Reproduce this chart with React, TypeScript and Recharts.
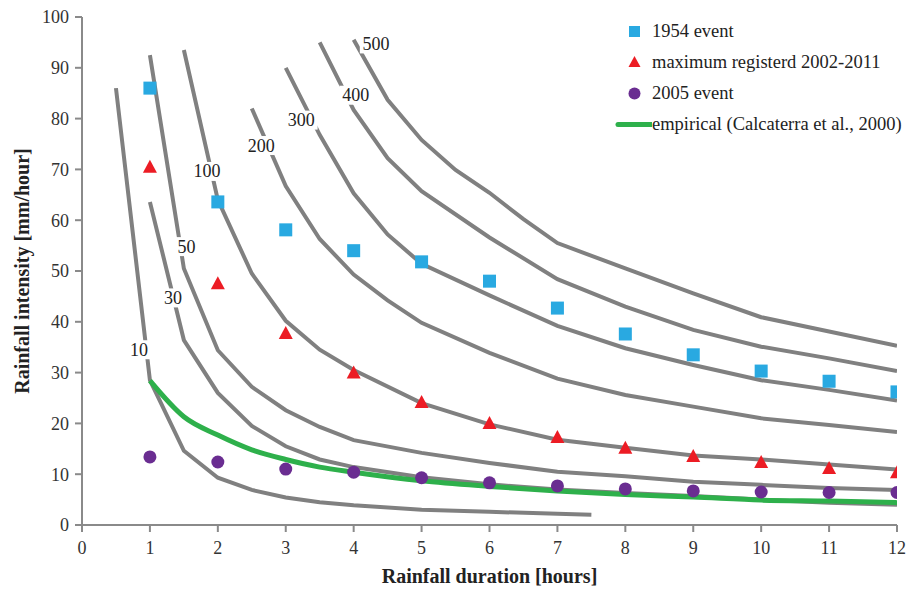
import React from 'react';
import { ComposedChart, Line, Scatter, XAxis, YAxis, Legend } from 'recharts';

// observed points, one per hour
const durations = [1, 2, 3, 4, 5, 6, 7, 8, 9, 10, 11, 12];
const event1954 = [86.0, 63.6, 58.1, 54.0, 51.8, 48.0, 42.7, 37.6, 33.5, 30.3, 28.3, 26.2];
const max2002to2011 = [70.5, 47.6, 37.8, 30.0, 24.2, 20.1, 17.3, 15.2, 13.6, 12.4, 11.2, 10.4];
const event2005 = [13.4, 12.4, 11.0, 10.4, 9.3, 8.3, 7.7, 7.1, 6.7, 6.5, 6.4, 6.4];

// empirical threshold (Calcaterra et al., 2000)
const empirical = [
  [1, 28.4], [1.5, 21.3], [2, 17.7], [2.5, 14.8], [3, 12.9], [3.5, 11.4], [4, 10.4],
  [5, 8.7], [6, 7.6], [7, 6.7], [8, 6.0], [9, 5.5], [10, 4.9], [11, 4.7], [12, 4.4],
];

// grey curves
const curve10 = [[0.5, 86], [1, 28.5], [1.5, 14.6], [2, 9.3], [2.5, 6.9], [3, 5.4], [3.5, 4.5], [4, 3.9], [5, 3.0], [6, 2.6], [7, 2.2], [7.5, 2.0]];
const curve30 = [[1, 63.6], [1.5, 36.4], [2, 26], [2.5, 19.5], [3, 15.5], [3.5, 12.9], [4, 11.4], [5, 9.4], [6, 8.0], [7, 7.0], [8, 6.3], [9, 5.7], [10, 5.0], [11, 4.4], [12, 4.0]];
const curve50 = [[1, 92.5], [1.5, 50.5], [2, 34.4], [2.5, 27.2], [3, 22.6], [3.5, 19.3], [4, 16.7], [5, 14.2], [6, 12.2], [7, 10.5], [8, 9.6], [9, 8.5], [10, 7.9], [11, 7.3], [12, 6.9]];
const curve100 = [[1.5, 93.5], [2, 64], [2.5, 49.5], [3, 40.2], [3.5, 34.5], [4, 30.5], [5, 24.0], [6, 19.8], [7, 16.8], [8, 15.2], [9, 13.7], [10, 12.9], [11, 11.9], [12, 10.9]];
const curve200 = [[2.5, 82], [3, 66.7], [3.5, 56.3], [4, 49.3], [4.5, 44.2], [5, 39.8], [6, 33.9], [7, 28.8], [8, 25.6], [9, 23.3], [10, 21.0], [11, 19.7], [12, 18.3]];
const curve300 = [[3, 90], [3.5, 76.8], [4, 65.3], [4.5, 57.2], [5, 51.4], [6, 45.2], [7, 39.2], [8, 34.8], [9, 31.5], [10, 28.5], [11, 26.6], [12, 24.5]];
const curve400 = [[3.5, 95], [4, 81.7], [4.5, 72.2], [5, 65.7], [6, 56.6], [7, 48.4], [8, 43.0], [9, 38.4], [10, 35.1], [11, 32.8], [12, 30.3]];
const curve500 = [[4, 95.5], [4.5, 83.7], [5, 75.8], [5.5, 69.9], [6, 65.4], [6.5, 60.2], [7, 55.5], [8, 50.5], [9, 45.6], [10, 40.9], [11, 38.1], [12, 35.3]];

const curves = [curve10, curve30, curve50, curve100, curve200, curve300, curve400, curve500];
const curveNames = ['10', '30', '50', '100', '200', '300', '400', '500'];
// where each curve's number sits (data units)
const labelX = [0.84, 1.34, 1.54, 1.84, 2.64, 3.23, 4.03, 4.33];
const labelY = [34.5, 44.7, 54.8, 69.6, 74.7, 79.7, 84.6, 94.7];

const xTicks = [0, 1, 2, 3, 4, 5, 6, 7, 8, 9, 10, 11, 12];
const yTicks = [0, 10, 20, 30, 40, 50, 60, 70, 80, 90, 100];

const legendNames = ['1954 event', 'maximum registerd 2002-2011', '2005 event', 'empirical (Calcaterra et al., 2000)'];

const FONT = '"Liberation Serif", "DejaVu Serif", serif';
const GREY = '#808080';
const BLUE = '#29a9e1';
const RED = '#ec1c24';
const PURPLE = '#6a2d91';
const GREEN = '#2eb04b';

const toPoints = (arr: number[][]) => arr.map(([x, y]) => ({ x, y }));
const pointsFrom = (vals: number[]) => durations.map((d, i) => ({ x: d, y: vals[i] }));

const labelData = curveNames.map((t, i) => ({ x: labelX[i], y: labelY[i], text: t }));

const Square = (p: any) => <rect x={p.cx - 6.5} y={p.cy - 6.5} width={13} height={13} fill={BLUE} />;
const Triangle = (p: any) => (
  <polygon points={`${p.cx},${p.cy - 7} ${p.cx - 7},${p.cy + 6} ${p.cx + 7},${p.cy + 6}`} fill={RED} />
);
const Dot = (p: any) => <circle cx={p.cx} cy={p.cy} r={6.5} fill={PURPLE} />;
const CurveLabel = (p: any) => {
  const t = p.payload.text as string;
  const w = t.length * 9.5 + 4;
  return (
    <g>
      <rect x={p.cx - w / 2} y={p.cy - 9.5} width={w} height={19} fill="#fff" />
      <text x={p.cx} y={p.cy} textAnchor="middle" dominantBaseline="central" fontFamily={FONT} fontSize={18} fill="#222">
        {t}
      </text>
    </g>
  );
};

const LegendBox = () => {
  const marks = [
    <rect x={5} y={5} width={11} height={11} fill={BLUE} />,
    <polygon points="10.5,4 4.5,15 16.5,15" fill={RED} />,
    <circle cx={10.5} cy={10.5} r={6} fill={PURPLE} />,
    null,
  ];
  return (
    <div style={{ fontFamily: FONT, fontSize: 18.5, color: '#222' }}>
      {legendNames.map((n, i) => (
        <div key={n} style={{ display: 'flex', alignItems: 'center', height: 31, whiteSpace: 'nowrap' }}>
          {marks[i] ? (
            <svg width={38} height={21}>
              <g transform="translate(10,0)">{marks[i]}</g>
            </svg>
          ) : (
            <svg width={38} height={21}>
              <line x1={4} y1={10.5} x2={38} y2={10.5} stroke={GREEN} strokeWidth={5} strokeLinecap="round" />
            </svg>
          )}
          <span>{n}</span>
        </div>
      ))}
    </div>
  );
};

const YTitle = (props: any) => {
  const vb = props.viewBox;
  const cy = vb.y + vb.height / 2;
  return (
    <text x={22} y={cy} transform={`rotate(-90 22 ${cy})`} textAnchor="middle" dominantBaseline="central"
      fontFamily={FONT} fontSize={20} fontWeight="bold" fill="#222">
      Rainfall intensity [mm/hour]
    </text>
  );
};

const XTitle = (props: any) => {
  const vb = props.viewBox;
  return (
    <text x={vb.x + vb.width / 2} y={576} textAnchor="middle" dominantBaseline="central"
      fontFamily={FONT} fontSize={20} fontWeight="bold" fill="#222">
      Rainfall duration [hours]
    </text>
  );
};

export default function App() {
  const tickStyle = { fontFamily: FONT, fontSize: 18, fill: '#333' };
  return (
    <div style={{ position: 'absolute', left: 0, top: 0, background: '#fff' }}>
      <ComposedChart width={918} height={589} margin={{ top: 17, right: 21, left: 0, bottom: 0 }}>
        <XAxis
          dataKey="x"
          type="number"
          domain={[0, 12]}
          ticks={xTicks}
          height={64}
          stroke="#8a8a8a"
          strokeWidth={2}
          tickSize={7}
          tickMargin={9}
          tick={tickStyle}
          allowDataOverflow
          label={XTitle}
        />
        <YAxis
          dataKey="y"
          type="number"
          domain={[0, 100]}
          ticks={yTicks}
          width={82}
          stroke="#8a8a8a"
          strokeWidth={2}
          tickSize={7}
          tickMargin={6}
          tick={tickStyle}
          allowDataOverflow
          label={YTitle}
        />
        {curves.map((c, i) => (
          <Line
            key={curveNames[i]}
            data={toPoints(c)}
            dataKey="y"
            type="linear"
            stroke={GREY}
            strokeWidth={4}
            dot={false}
            activeDot={false}
            isAnimationActive={false}
          />
        ))}
        <Scatter data={labelData} dataKey="y" shape={CurveLabel} isAnimationActive={false} />
        <Line
          data={toPoints(empirical)}
          dataKey="y"
          type="monotone"
          stroke={GREEN}
          strokeWidth={5}
          dot={false}
          activeDot={false}
          isAnimationActive={false}
        />
        <Scatter data={pointsFrom(event1954)} dataKey="y" shape={Square} isAnimationActive={false} />
        <Scatter data={pointsFrom(max2002to2011)} dataKey="y" shape={Triangle} isAnimationActive={false} />
        <Scatter data={pointsFrom(event2005)} dataKey="y" shape={Dot} isAnimationActive={false} />
        <Legend
          layout="horizontal"
          verticalAlign="middle"
          align="center"
          content={LegendBox}
          wrapperStyle={{ left: 614, top: 16, width: 304, height: 130 }}
        />
      </ComposedChart>
    </div>
  );
}
